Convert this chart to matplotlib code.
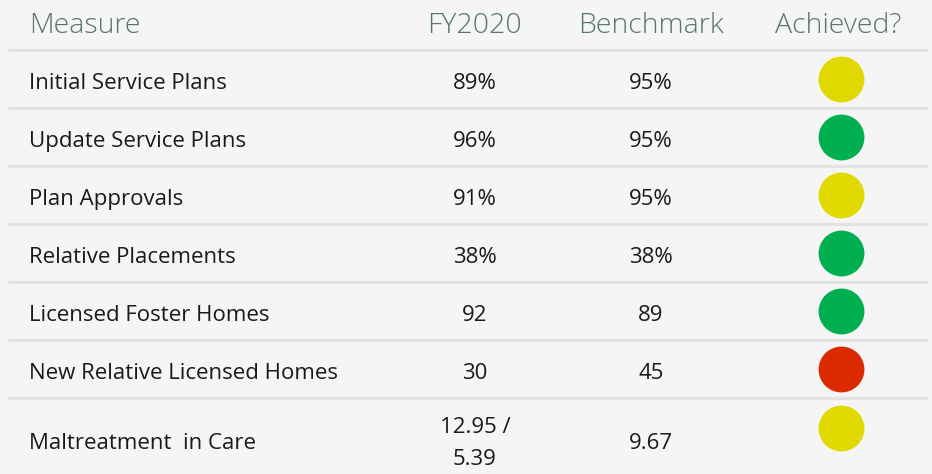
import matplotlib
matplotlib.use("Agg")
import matplotlib.pyplot as plt

measures = ["Initial Service Plans", "Update Service Plans", "Plan Approvals",
            "Relative Placements", "Licensed Foster Homes",
            "New Relative Licensed Homes", "Maltreatment  in Care"]
fy2020 = ["89%", "96%", "91%", "38%", "92", "30", "12.95 /\n5.39"]
benchmark = ["95%", "95%", "95%", "38%", "89", "45", "9.67"]
achieved = ["yellow", "green", "yellow", "green", "green", "red", "yellow"]
headers = ["Measure", "FY2020", "Benchmark", "Achieved?"]

status_colors = {"yellow": "#e0d900", "green": "#00b050", "red": "#dc2a00"}

W, H = 932, 474
fig = plt.figure(figsize=(W / 100, H / 100), dpi=100, facecolor="#f5f5f5")
ax = fig.add_axes([0, 0, 1, 1])
ax.set_xlim(0, W)
ax.set_ylim(H, 0)
ax.axis("off")
ax.set_facecolor("#f5f5f5")

font = ["Open Sans", "DejaVu Sans"]
hdr_color = "#587766"
txt_color = "#1a1a1a"

col_x = [29, 474, 651, 838]
header_base = 33
row_top = 50
row_h = 58
fs = 16

# header
ax.text(col_x[0], header_base, headers[0], ha="left", va="baseline",
        fontsize=20.5, color=hdr_color, family=font, fontweight="light")
for x, h in zip(col_x[1:], headers[1:]):
    ax.text(x, header_base, h, ha="center", va="baseline", fontsize=20.5,
            color=hdr_color, family=font, fontweight="light")

# separators
for i in range(len(measures)):
    y = row_top + i * row_h
    ax.plot([8, 928], [y, y], color="#e2e2e2", lw=2.2, solid_capstyle="butt")

for i, (m, f, b, a) in enumerate(zip(measures, fy2020, benchmark, achieved)):
    yc = row_top + i * row_h + row_h / 2
    last = i == len(measures) - 1
    base = 449 if last else yc + 10
    cy = 428 if last else yc
    ax.text(col_x[0], base, m, ha="left", va="baseline", fontsize=fs,
            color=txt_color, family=font)
    lines = f.split("\n")
    if len(lines) > 1:
        for k, ln in enumerate(lines):
            ax.text(col_x[1] + 1, 433 + 32 * k, ln, ha="center",
                    va="baseline", fontsize=fs, color=txt_color, family=font)
    else:
        ax.text(col_x[1] + 1, base, f, ha="center", va="baseline",
                fontsize=fs, color=txt_color, family=font)
    ax.text(col_x[2], base, b, ha="center", va="baseline", fontsize=fs,
            color=txt_color, family=font)
    ax.scatter([840.5], [cy], s=1090, color=status_colors[a], linewidths=0,
               zorder=3)

fig.savefig("out.png", dpi=100, facecolor=fig.get_facecolor())
